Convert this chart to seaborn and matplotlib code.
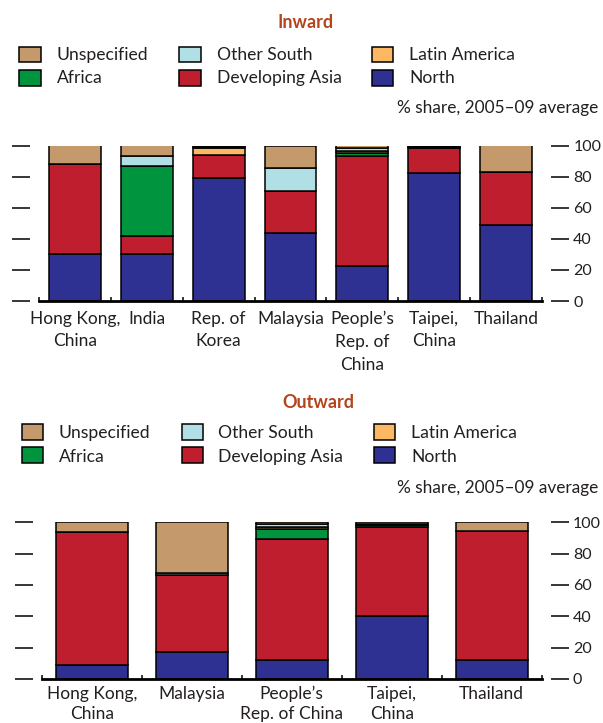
import numpy as np
import pandas as pd
import seaborn as sns
import matplotlib.pyplot as plt
from matplotlib.patches import Rectangle

sns.set_style("white")
plt.rcParams['font.family'] = ['Lato', 'DejaVu Sans']

# stacking order: first level ends on top in histplot's stack
regions = ["Unspecified", "Other South", "Latin America", "Africa", "Developing Asia", "North"]
region_colors = ["#C49A6C", "#B0DFE5", "#FDB863", "#00943E", "#BE1E2D", "#2E3192"]

# Inward FDI, % share 2005-09 average
in_labels = ["Hong Kong,\nChina", "India", "Rep. of\nKorea", "Malaysia",
             "People\u2019s\nRep. of\nChina", "Taipei,\nChina", "Thailand"]
in_north = [30, 30, 79, 43.5, 22.5, 82.5, 49]
in_dev_asia = [58, 11.5, 15, 27, 70.7, 16, 34]
in_africa = [0, 45, 0, 0, 1.8, 0, 0]
in_latin = [0, 0, 4.5, 0, 1.5, 0, 0]
in_other_south = [0, 7, 0.5, 15, 1.7, 0.5, 0]
in_unspec = [12, 6.5, 1, 14.5, 1.8, 1, 17]

# Outward FDI
out_labels = ["Hong Kong,\nChina", "Malaysia", "People\u2019s\nRep. of China",
              "Taipei,\nChina", "Thailand"]
out_north = [9, 17, 12, 40, 12]
out_dev_asia = [85, 49.5, 77.5, 57, 82.5]
out_africa = [0, 0, 6.5, 1, 0]
out_latin = [0, 0, 1, 0.5, 0]
out_other_south = [0, 1, 2, 0.5, 0]
out_unspec = [6, 32.5, 1, 1, 5.5]

TXT = "#231F20"
TITLE = "#B5441B"
W, H = 603, 723


def long_frame(labels, series):
    rows = []
    for region, vals in series.items():
        for i, v in enumerate(vals):
            rows.append({"pos": i, "region": region, "share": v})
    return pd.DataFrame(rows)


def fx(px):
    return px / W


def fy(py):
    return 1 - py / H


def draw_panel(ax, labels, df, spacing=1.52, pad=7):
    n = len(labels)
    sns.histplot(data=df, x="pos", weights="share", hue="region",
                 hue_order=regions, palette=region_colors, multiple="stack",
                 discrete=True, shrink=0.72, alpha=1, edgecolor="black",
                 linewidth=1.1, legend=False, ax=ax)
    ax.set_xlim(-0.5, n - 0.5)
    ax.set_ylim(0, 100)
    ax.set_xlabel("")
    ax.set_ylabel("")
    ax.spines["top"].set_visible(False)
    for side in ["left", "right"]:
        ax.spines[side].set_position(("outward", 6.5))
        ax.spines[side].set_visible(False)
    ax.spines["bottom"].set_linewidth(2)
    ax.spines["bottom"].set_color("black")
    ax.set_yticks(range(0, 101, 20))
    ax.tick_params(axis="y", which="major", left=True, right=True,
                   labelleft=False, labelright=True, direction="out",
                   length=13, width=1.1, pad=3, labelsize=11.5, colors="black",
                   labelcolor=TXT)
    ax.set_xticks(range(n))
    ax.set_xticklabels(labels, linespacing=spacing)
    ax.tick_params(axis="x", which="major", length=0, pad=pad, labelsize=12.5,
                   labelcolor=TXT)
    ax.set_xticks(np.arange(-0.5, n, 1), minor=True)
    ax.tick_params(axis="x", which="minor", bottom=True, direction="in",
                   length=3, width=1.1, color="black")


def draw_legend(fig, boxes_x, texts_x, rows_y, baselines):
    order = [["Unspecified", "Other South", "Latin America"],
             ["Africa", "Developing Asia", "North"]]
    for r, row in enumerate(order):
        for c, name in enumerate(row):
            col = region_colors[regions.index(name)]
            x0 = boxes_x[c]
            y0 = rows_y[r]
            fig.add_artist(Rectangle((fx(x0), fy(y0 + 15.6)), 21.5 / W, 15.6 / H,
                                     transform=fig.transFigure, facecolor=col,
                                     edgecolor="black", linewidth=1.1))
            fig.text(fx(texts_x[c]), fy(baselines[r]), name, fontsize=12.6,
                     color=TXT, va="baseline", ha="left")


fig = plt.figure(figsize=(6.03, 7.23), dpi=100)

# Inward panel
ax1 = fig.add_axes([fx(39), fy(301), (542 - 39) / W, 155.5 / H])
in_df = long_frame(in_labels, {
    "North": in_north, "Developing Asia": in_dev_asia, "Africa": in_africa,
    "Latin America": in_latin, "Other South": in_other_south,
    "Unspecified": in_unspec})
draw_panel(ax1, in_labels, in_df)
fig.text(fx(306), fy(22), "Inward", fontsize=13, fontweight="bold",
         color=TITLE, ha="center", va="center")
draw_legend(fig, [19.3, 179.3, 371.7], [56.7, 216.7, 409], [46.7, 70], [60, 83.3])
fig.text(fx(598), fy(113), "% share, 2005\u201309 average", fontsize=12.4,
         color=TXT, ha="right", va="baseline")

# Outward panel
ax2 = fig.add_axes([fx(41.7), fy(679), 500 / W, 156.7 / H])
out_df = long_frame(out_labels, {
    "North": out_north, "Developing Asia": out_dev_asia, "Africa": out_africa,
    "Latin America": out_latin, "Other South": out_other_south,
    "Unspecified": out_unspec})
draw_panel(ax2, out_labels, out_df, spacing=1.3, pad=5)
fig.text(fx(318), fy(402.5), "Outward", fontsize=13, fontweight="bold",
         color=TITLE, ha="center", va="center")
draw_legend(fig, [21.7, 181.7, 374], [59, 218, 411], [424.3, 447.3], [438.3, 461.7])
fig.text(fx(598), fy(493), "% share, 2005\u201309 average", fontsize=12.4,
         color=TXT, ha="right", va="baseline")

fig.savefig("out.png", dpi=100)
